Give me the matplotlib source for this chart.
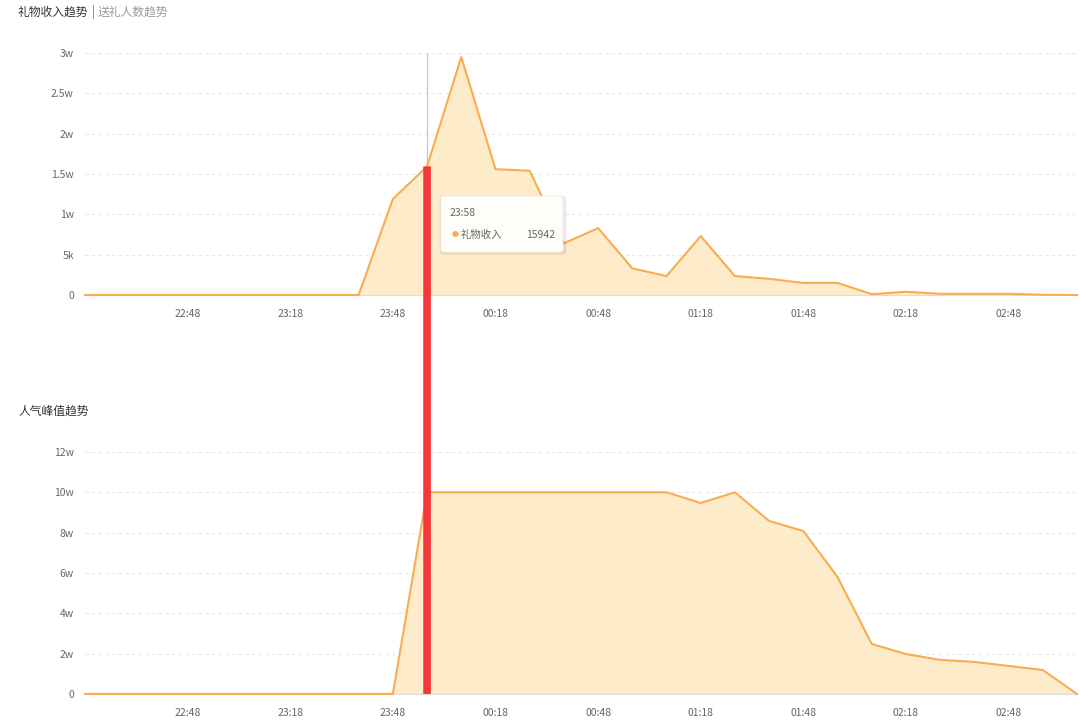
import numpy as np
import matplotlib
matplotlib.use("Agg")
import matplotlib.pyplot as plt
from matplotlib.patches import ConnectionPatch, FancyBboxPatch

plt.rcParams["font.family"] = ["Noto Sans CJK SC", "DejaVu Sans"]

# ── data: one point every 10 minutes, 22:18 .. 03:08 ──────
times = ["22:18", "22:28", "22:38", "22:48", "22:58", "23:08", "23:18", "23:28",
         "23:38", "23:48", "23:58", "00:08", "00:18", "00:28", "00:38", "00:48",
         "00:58", "01:08", "01:18", "01:28", "01:38", "01:48", "01:58", "02:08",
         "02:18", "02:28", "02:38", "02:48", "02:58", "03:08"]
gift_income = [0, 0, 0, 0, 0, 0, 0, 0,
               0, 11900, 15942, 29500, 15600, 15400, 6400, 8300,
               3300, 2350, 7300, 2350, 2000, 1500, 1500, 100,
               400, 150, 150, 150, 30, 0]
popularity = [0, 0, 0, 0, 0, 0, 0, 0,
              0, 0, 100000, 100000, 100000, 100000, 100000, 100000,
              100000, 100000, 94700, 100000, 85800, 80800, 58000, 24800,
              19800, 16900, 15900, 13900, 11900, 0]
tick_labels = ["22:48", "23:18", "23:48", "00:18", "00:48", "01:18", "01:48", "02:18", "02:48"]
top_ticks = [0, 5000, 10000, 15000, 20000, 25000, 30000]
top_tick_labels = ["0", "5k", "1w", "1.5w", "2w", "2.5w", "3w"]
bot_ticks = [0, 20000, 40000, 60000, 80000, 100000, 120000]
bot_tick_labels = ["0", "2w", "4w", "6w", "8w", "10w", "12w"]
hover_idx = 10

LINE = "#f9ad52"
FILL = "#fdebc9"
GRID = "#e6e6e6"
TXT = "#666666"

x = np.arange(len(times))
tick_pos = [times.index(t) for t in tick_labels]

fig = plt.figure(figsize=(10.8, 7.25), dpi=100)
ax1 = fig.add_axes([0.0787, 0.5931, 0.9185, 0.3338])
ax2 = fig.add_axes([0.0787, 0.0428, 0.9185, 0.3338])


def style(ax, ticks, labels, ymax):
    ax.set_xlim(0, len(times) - 1)
    ax.set_ylim(0, ymax)
    ax.set_yticks(ticks)
    ax.set_yticklabels(labels)
    ax.set_xticks(tick_pos)
    ax.set_xticklabels(tick_labels)
    ax.tick_params(length=0, labelsize=7.5, colors=TXT, pad=8)
    ax.tick_params(axis="x", pad=10)
    for s in ["top", "right", "left"]:
        ax.spines[s].set_visible(False)
    ax.spines["bottom"].set_color("#dddddd")
    ax.grid(axis="y", color=GRID, linestyle=(0, (3, 3)), linewidth=0.8)
    ax.set_axisbelow(True)


ax1.fill_between(x, gift_income, color=FILL, zorder=2)
ax1.plot(x, gift_income, color=LINE, linewidth=1.5, zorder=3, clip_on=False)
style(ax1, top_ticks, top_tick_labels, 30000)

ax2.fill_between(x, popularity, color=FILL, zorder=2)
ax2.plot(x, popularity, color=LINE, linewidth=1.5, zorder=3, clip_on=False)
style(ax2, bot_ticks, bot_tick_labels, 120000)

# hover crosshair + tooltip
ax1.axvline(hover_idx, color="#cccccc", linewidth=1, zorder=1)
for dx, dy, a in [(0.0012, -0.0025, 0.035), (0.0006, -0.0012, 0.05)]:
    sh = FancyBboxPatch((0.4083 + dx, 0.6524 + dy), 0.1130, 0.0772,
                        transform=fig.transFigure,
                        boxstyle="round,pad=0.002,rounding_size=0.004",
                        facecolor="#000000", edgecolor="none", alpha=a, zorder=9)
    fig.patches.append(sh)
tip = FancyBboxPatch((0.4083, 0.6524), 0.1130, 0.0772, transform=fig.transFigure,
                     boxstyle="round,pad=0,rounding_size=0.003",
                     facecolor="#fffdfa", edgecolor="#f0f0f0", linewidth=0.6, zorder=10)
fig.patches.append(tip)
fig.text(0.4167, 0.7062, times[hover_idx], fontsize=7.5, color=TXT, va="center", zorder=11)
fig.text(0.4180, 0.6760, "●", fontsize=5, color=LINE, va="center", zorder=11)
fig.text(0.4269, 0.6760, "礼物收入", fontsize=7.5, color=TXT, va="center", zorder=11)
fig.text(0.5140, 0.6760, str(gift_income[hover_idx]), fontsize=7.5, color=TXT,
         va="center", ha="right", zorder=11)

# red marker line spanning both charts
con = ConnectionPatch(xyA=(hover_idx, gift_income[hover_idx]), coordsA=ax1.transData,
                      xyB=(hover_idx, 0), coordsB=ax2.transData,
                      color="#f5363a", linewidth=5.5, zorder=20)
con.set_capstyle("butt")
fig.add_artist(con)

# titles
fig.text(0.0167, 0.983, "礼物收入趋势", fontsize=8.5, color="#333333", va="center")
fig.text(0.0852, 0.983, "|", fontsize=9, color="#3a7bd5", va="center")
fig.text(0.0905, 0.983, "送礼人数趋势", fontsize=8.5, color="#999999", va="center")
fig.text(0.0167, 0.433, "人气峰值趋势", fontsize=8.5, color="#333333", va="center")

plt.savefig("out.png", dpi=100)
